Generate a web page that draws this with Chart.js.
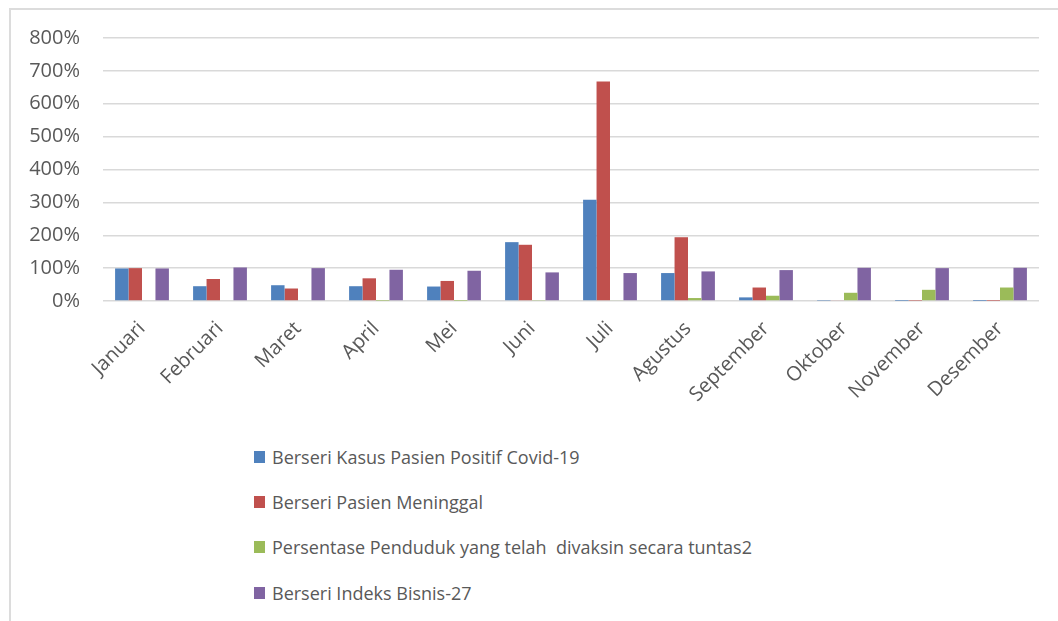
<!DOCTYPE html>
<html>
<head>
<meta charset="utf-8">
<script src="https://cdn.jsdelivr.net/npm/chart.js@4.4.1/dist/chart.umd.min.js"></script>
<style>
  body { margin: 0; background: #fff; width: 1058px; height: 621px; overflow: hidden; position: relative; font-family: "Open Sans", sans-serif; }
  #bingkai { position: absolute; left: 9px; top: 8px; width: 1100px; height: 700px; border-left: 2px solid #dcdcdc; border-top: 2px solid #dcdcdc; }
  #wadah { position: absolute; left: 0; top: 0; width: 1058px; height: 430px; }
  #legenda { position: absolute; left: 254px; top: 434px; }
  .item-legenda { height: 45.3px; display: flex; align-items: center; font-size: 18px; color: #595959; white-space: pre; }
  .kotak { width: 11px; height: 12px; margin-right: 7px; }
</style>
</head>
<body>
<div id="bingkai"></div>
<div id="wadah"><canvas id="grafik"></canvas></div>
<div id="legenda"></div>
<script>
const bulan = ['Januari', 'Februari', 'Maret', 'April', 'Mei', 'Juni', 'Juli', 'Agustus', 'September', 'Oktober', 'November', 'Desember'];
const namaSeri = [
    'Berseri Kasus Pasien Positif Covid-19',
    'Berseri Pasien Meninggal',
    'Persentase Penduduk yang telah  divaksin secara tuntas2',
    'Berseri Indeks Bisnis-27'
];
const warnaSeri = ['#4F81BD', '#C0504D', '#9BBB59', '#8064A2'];

// nilai dalam persen
const kasusPositif = [99, 45, 48, 45, 44, 179, 308, 85, 11, 1, 0.4, 0.2];
const pasienMeninggal = [100, 67, 38, 69, 61, 171, 668, 194, 41, 2, 0.8, 0.5];
const vaksinTuntas = [0, 0, 0, 0.6, 0.5, 1.5, 2, 9, 16, 25, 34, 41];
const indeksBisnis = [99, 102, 100, 95, 92, 87, 85, 90, 94, 101, 100, 101];
const tickY = [0, 100, 200, 300, 400, 500, 600, 700, 800];

const semuaNilai = [kasusPositif, pasienMeninggal, vaksinTuntas, indeksBisnis];

const grafik = new Chart(document.getElementById('grafik'), {
    type: 'bar',
    data: {
        labels: bulan,
        datasets: semuaNilai.map((d, i) => ({
            label: namaSeri[i],
            data: d,
            backgroundColor: warnaSeri[i],
            barPercentage: 1,
            categoryPercentage: 0.69
        }))
    },
    options: {
        responsive: true,
        maintainAspectRatio: false,
        animation: false,
        layout: { padding: { top: 38, right: 19, left: 0, bottom: 0 } },
        plugins: { legend: { display: false }, tooltip: { enabled: false } },
        scales: {
            x: {
                grid: { display: false },
                border: { display: false },
                ticks: {
                    autoSkip: false, maxRotation: 45, minRotation: 45,
                    color: '#595959', padding: 8,
                    font: { family: 'Open Sans', size: 20 }
                },
                afterFit: s => { s.height = 129; }
            },
            y: {
                min: 0, max: 800,
                afterBuildTicks: s => { s.ticks = tickY.map(v => ({ value: v })); },
                grid: { color: '#d9d9d9', lineWidth: 1.5, drawTicks: false },
                border: { display: false },
                ticks: {
                    color: '#595959', padding: 23,
                    font: { family: 'Open Sans', size: 20 },
                    callback: v => v + '%'
                },
                afterFit: s => { s.width = 103; }
            }
        }
    }
});

document.getElementById('legenda').innerHTML = grafik.data.datasets.map(ds => `
    <div class="item-legenda"><span class="kotak" style="background:${ds.backgroundColor}"></span>${ds.label}</div>`).join('');
</script>
</body>
</html>
